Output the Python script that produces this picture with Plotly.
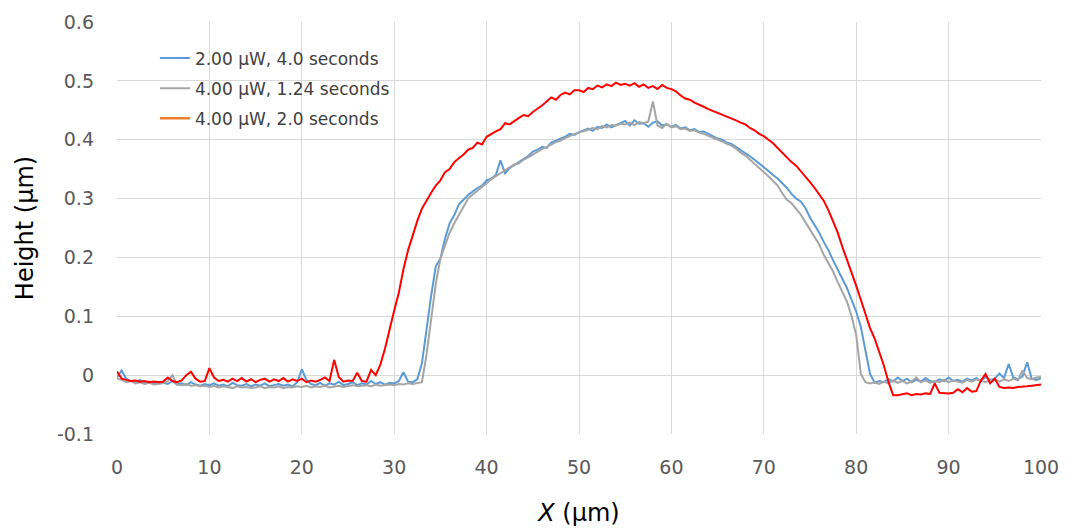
import numpy as np
import plotly.graph_objects as go

# Surface height profiles, sampled every 0.5 µm from 0 to 100 µm
x_um = np.arange(0, 100.01, 0.5)

h_2uw_4s = [
    -0.004, 0.008, -0.006, -0.010, -0.012, -0.008, -0.013, -0.011, -0.014, -0.012,
    -0.013, -0.015, -0.010, -0.016, -0.014, -0.017, -0.012, -0.016, -0.018, -0.015,
    -0.017, -0.014, -0.018, -0.016, -0.019, -0.013, -0.017, -0.018, -0.015, -0.019,
    -0.016, -0.018, -0.014, -0.019, -0.017, -0.015, -0.018, -0.016, -0.019, -0.012,
    0.010, -0.008, -0.015, -0.017, -0.013, -0.018, -0.014, -0.016, -0.011, -0.017,
    -0.015, -0.012, -0.017, -0.014, -0.016, -0.010, -0.015, -0.012, -0.016, -0.013,
    -0.014, -0.010, 0.005, -0.011, -0.012, -0.007, 0.020, 0.080, 0.135, 0.185,
    0.198, 0.232, 0.258, 0.272, 0.290, 0.298, 0.306, 0.312, 0.318, 0.322,
    0.331, 0.334, 0.340, 0.365, 0.343, 0.352, 0.357, 0.362, 0.368, 0.372,
    0.380, 0.383, 0.388, 0.386, 0.395, 0.398, 0.402, 0.405, 0.410, 0.408,
    0.413, 0.416, 0.419, 0.415, 0.422, 0.420, 0.426, 0.421, 0.425, 0.429,
    0.432, 0.424, 0.433, 0.427, 0.428, 0.422, 0.429, 0.431, 0.424, 0.426,
    0.422, 0.425, 0.419, 0.421, 0.416, 0.418, 0.413, 0.414, 0.410, 0.406,
    0.402, 0.400, 0.395, 0.393, 0.388, 0.382, 0.377, 0.372, 0.366, 0.360,
    0.354, 0.347, 0.340, 0.334, 0.326, 0.318, 0.308, 0.300, 0.295, 0.284,
    0.268, 0.255, 0.242, 0.226, 0.212, 0.195, 0.180, 0.163, 0.148, 0.128,
    0.108, 0.082, 0.044, 0.002, -0.013, -0.010, -0.012, -0.007, -0.011, -0.004,
    -0.010, -0.006, -0.012, -0.008, -0.011, -0.005, -0.010, -0.012, -0.007, -0.010,
    -0.004, -0.010, -0.008, -0.011, -0.006, -0.009, -0.005, -0.010, -0.003, -0.008,
    -0.006, 0.003, -0.005, 0.019, -0.004, -0.007, -0.002, 0.022, -0.006, -0.008,
    -0.005,
]

h_4uw_124s = [
    -0.006, -0.008, -0.012, -0.010, -0.014, -0.012, -0.015, -0.013, -0.016, -0.015,
    -0.014, -0.010, 0.000, -0.016, -0.017, -0.015, -0.018, -0.017, -0.019, -0.018,
    -0.020, -0.018, -0.021, -0.019, -0.020, -0.022, -0.019, -0.021, -0.020, -0.022,
    -0.021, -0.019, -0.022, -0.020, -0.021, -0.019, -0.022, -0.020, -0.021, -0.019,
    -0.020, -0.018, -0.021, -0.019, -0.020, -0.018, -0.021, -0.019, -0.018, -0.020,
    -0.019, -0.017, -0.019, -0.018, -0.017, -0.019, -0.016, -0.018, -0.017, -0.016,
    -0.017, -0.015, -0.016, -0.014, -0.015, -0.013, -0.012, 0.035, 0.100, 0.155,
    0.198, 0.222, 0.242, 0.258, 0.272, 0.288, 0.300, 0.307, 0.313, 0.320,
    0.326, 0.333, 0.338, 0.342, 0.348, 0.352, 0.358, 0.360, 0.366, 0.370,
    0.375, 0.380, 0.384, 0.388, 0.392, 0.396, 0.398, 0.403, 0.406, 0.410,
    0.412, 0.414, 0.417, 0.420, 0.418, 0.423, 0.421, 0.425, 0.424, 0.427,
    0.426, 0.429, 0.425, 0.430, 0.428, 0.431, 0.465, 0.424, 0.420, 0.427,
    0.421, 0.423, 0.418, 0.419, 0.415, 0.416, 0.412, 0.410, 0.407, 0.404,
    0.400, 0.397, 0.393, 0.390, 0.385, 0.378, 0.373, 0.366, 0.360, 0.352,
    0.345, 0.338, 0.330, 0.322, 0.309, 0.298, 0.292, 0.282, 0.273, 0.260,
    0.248, 0.234, 0.222, 0.204, 0.190, 0.176, 0.158, 0.140, 0.125, 0.100,
    0.068, 0.002, -0.012, -0.014, -0.012, -0.015, -0.011, -0.014, -0.009, -0.013,
    -0.010, -0.014, -0.011, -0.004, -0.012, -0.009, -0.013, -0.010, -0.012, -0.008,
    -0.012, -0.009, -0.011, -0.013, -0.008, -0.011, -0.007, -0.010, -0.012, -0.009,
    -0.008, -0.011, -0.007, -0.010, -0.006, -0.009, 0.008, -0.005, -0.007, -0.004,
    -0.003,
]

h_4uw_2s = [
    0.006, -0.006, -0.008, -0.010, -0.009, -0.011, -0.010, -0.012, -0.011, -0.012,
    -0.011, -0.004, -0.010, -0.012, -0.009, 0.000, 0.006, -0.006, -0.011, -0.010,
    0.012, -0.004, -0.010, -0.008, -0.011, -0.006, -0.010, -0.005, -0.011, -0.007,
    -0.012, -0.008, -0.006, -0.011, -0.007, -0.010, -0.005, -0.011, -0.007, -0.010,
    -0.006, -0.012, -0.009, -0.011, -0.008, -0.004, -0.010, 0.026, -0.003, -0.011,
    -0.009, -0.010, 0.004, -0.010, -0.011, 0.009, 0.000, 0.018, 0.045, 0.080,
    0.110, 0.140, 0.180, 0.212, 0.238, 0.262, 0.283, 0.297, 0.310, 0.322,
    0.331, 0.345, 0.350, 0.362, 0.368, 0.375, 0.383, 0.386, 0.395, 0.392,
    0.405, 0.410, 0.414, 0.418, 0.428, 0.426, 0.432, 0.437, 0.442, 0.440,
    0.447, 0.452, 0.458, 0.465, 0.472, 0.468, 0.476, 0.480, 0.477, 0.484,
    0.484, 0.481, 0.488, 0.486, 0.492, 0.489, 0.494, 0.491, 0.497, 0.493,
    0.495, 0.492, 0.496, 0.490, 0.494, 0.488, 0.491, 0.486, 0.493, 0.488,
    0.486, 0.482, 0.475, 0.470, 0.468, 0.463, 0.460, 0.456, 0.452, 0.449,
    0.446, 0.443, 0.440, 0.436, 0.433, 0.429, 0.426, 0.420, 0.416, 0.410,
    0.406, 0.400, 0.394, 0.386, 0.378, 0.369, 0.362, 0.356, 0.347, 0.337,
    0.328, 0.318, 0.308, 0.296, 0.280, 0.262, 0.242, 0.218, 0.196, 0.176,
    0.152, 0.128, 0.104, 0.080, 0.062, 0.040, 0.016, -0.012, -0.034, -0.034,
    -0.033, -0.031, -0.034, -0.032, -0.033, -0.031, -0.032, -0.014, -0.030, -0.031,
    -0.031, -0.030, -0.024, -0.029, -0.022, -0.028, -0.027, -0.009, 0.002, -0.014,
    -0.006, -0.020, -0.022, -0.021, -0.022, -0.020, -0.020, -0.019, -0.018, -0.017,
    -0.016,
]

x_ticks = [0, 10, 20, 30, 40, 50, 60, 70, 80, 90, 100]
y_ticks = [-0.1, 0, 0.1, 0.2, 0.3, 0.4, 0.5, 0.6]
y_tick_text = ["-0.1", "0", "0.1", "0.2", "0.3", "0.4", "0.5", "0.6"]

FONT = "DejaVu Sans, Verdana, sans-serif"
TICK_GREY = "#595959"
GRID = "#d9d9d9"

fig = go.Figure()
fig.add_trace(go.Scatter(
    x=x_um, y=h_2uw_4s, mode="lines", name="2.00 μW, 4.0 seconds",
    legendgroup="a", line=dict(color="#5b9bd5", width=2),
))
fig.add_trace(go.Scatter(
    x=x_um, y=h_4uw_124s, mode="lines", name="4.00 μW, 1.24 seconds",
    legendgroup="b", line=dict(color="#a5a5a5", width=2),
))
fig.add_trace(go.Scatter(
    x=x_um, y=h_4uw_2s, mode="lines", name="4.00 μW, 2.0 seconds",
    legendgroup="c", line=dict(color="#ff0000", width=2), showlegend=False,
))
# legend key for the third profile keeps the series' orange swatch
fig.add_trace(go.Scatter(
    x=[None], y=[None], mode="lines", name="4.00 μW, 2.0 seconds",
    legendgroup="c", line=dict(color="#ed7d31", width=2.4),
))

fig.update_layout(
    width=1068, height=529,
    margin=dict(l=117, r=27, t=22, b=95),
    paper_bgcolor="white", plot_bgcolor="white",
    font=dict(family=FONT, color=TICK_GREY, size=19),
    showlegend=True,
    legend=dict(
        x=0.041, y=0.955, xanchor="left", yanchor="top",
        bgcolor="rgba(0,0,0,0)",
        font=dict(family=FONT, size=17, color="#404040"),
        tracegroupgap=5, itemwidth=30,
    ),
    xaxis=dict(
        range=[0, 100], tickvals=x_ticks, showgrid=True, gridcolor=GRID,
        gridwidth=1, zeroline=False, showline=False, ticks="",
        ticklabelstandoff=20, automargin=False,
        tickfont=dict(family=FONT, size=19, color=TICK_GREY),
        title=dict(text="<i>X</i> (μm)", standoff=27,
                   font=dict(family=FONT, size=24, color="#000000")),
    ),
    yaxis=dict(
        range=[-0.1, 0.6], tickvals=y_ticks, ticktext=y_tick_text,
        showgrid=True, gridcolor=GRID, gridwidth=1, zeroline=False,
        showline=False, ticks="", ticklabelstandoff=22, automargin=False,
        tickfont=dict(family=FONT, size=19, color=TICK_GREY),
        title=dict(text="Height (μm)", standoff=16,
                   font=dict(family=FONT, size=24, color="#000000")),
    ),
)

fig.write_html("out.html")
